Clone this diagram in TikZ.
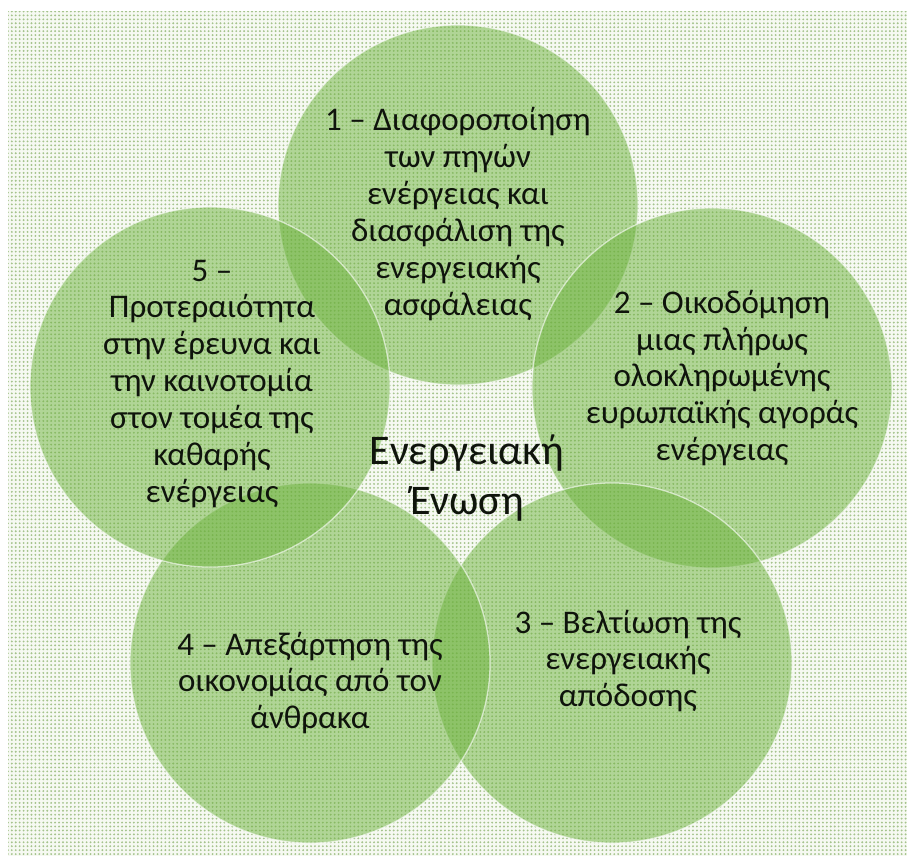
\documentclass[tikz,border=0pt]{standalone}
\usepackage{fontspec}
\setmainfont{Carlito}
\usepackage{tikz}
\usetikzlibrary{patterns.meta}
\definecolor{leafgreen}{RGB}{108,178,60}
\definecolor{paleground}{RGB}{246,249,242}
\definecolor{dotgreen}{RGB}{165,195,140}
\definecolor{inkgray}{RGB}{15,20,12}

\begin{document}
\begin{tikzpicture}[
    x=0.025cm, y=-0.025cm,
    bubble/.style={circle, draw=white, draw opacity=0.6, line width=0.9pt, fill=leafgreen, fill opacity=0.5, minimum size=9cm, inner sep=0pt},
    caption/.style={align=center, text=inkgray, font=\fontsize{23.5}{26.3}\selectfont},
    title/.style={align=center, text=inkgray, font=\fontsize{30}{35.5}\selectfont}
]
\useasboundingbox (0,0) rectangle (907,858);
% dotted backdrop
\fill[paleground] (8,11) rectangle (907,856);
\fill[pattern={Dots[radius=0.75pt, distance=2.8pt]}, pattern color=dotgreen] (8,11) rectangle (907,856);

% five overlapping circles
\foreach \id/\cx/\cy in {c1/458/205, c2/712/388, c3/612/663, c4/310/663, c5/210/387} {
    \node[bubble] (\id) at (\cx,\cy) {};
}

\node[title] (union) at (467,478) {Ενεργειακή\\Ένωση};
\node[caption] (t1) at (458,214) {1 – Διαφοροποίηση\\των πηγών\\ενέργειας και\\διασφάλιση της\\ενεργειακής\\ασφάλειας};
\node[caption] (t2) at (722,378) {2 – Οικοδόμηση\\μιας πλήρως\\ολοκληρωμένης\\ευρωπαϊκής αγοράς\\ενέργειας};
\node[caption] (t3) at (628,661) {3 – Βελτίωση της\\ενεργειακής\\απόδοσης};
\node[caption] (t4) at (310,683) {4 – Απεξάρτηση της\\οικονομίας από τον\\άνθρακα};
\node[caption] (t5) at (212,384) {5 –\\Προτεραιότητα\\στην έρευνα και\\την καινοτομία\\στον τομέα της\\καθαρής\\ενέργειας};
\end{tikzpicture}
\end{document}
